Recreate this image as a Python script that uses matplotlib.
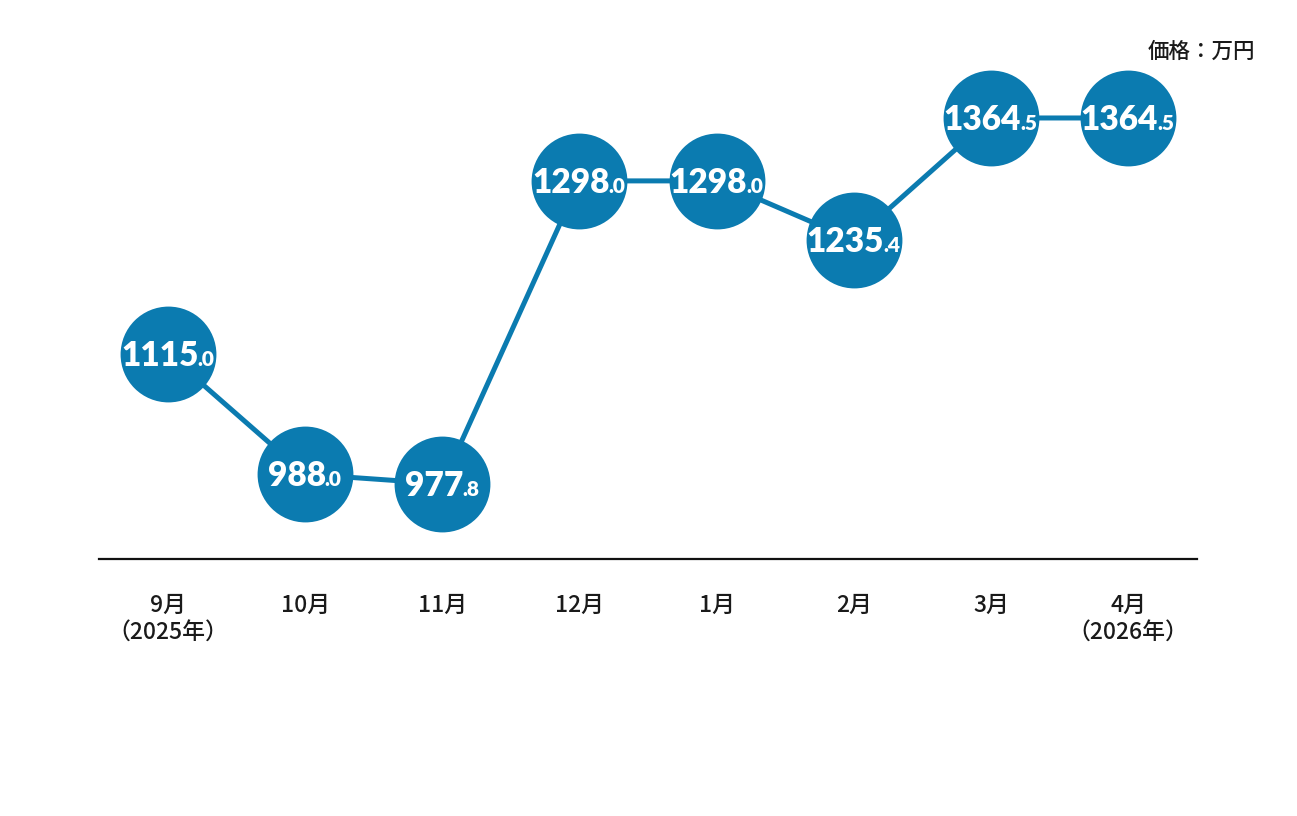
import matplotlib
matplotlib.use("Agg")
import matplotlib.pyplot as plt
from matplotlib.transforms import Affine2D

months = ["9月\n（2025年）", "10月", "11月", "12月", "1月", "2月", "3月", "4月\n（2026年）"]
prices = [1115.0, 988.0, 977.8, 1298.0, 1298.0, 1235.4, 1364.5, 1364.5]
unit_label = "価格：万円"

plt.rcParams['font.family'] = ['Noto Sans CJK JP', 'DejaVu Sans']

W, H = 1297, 816
fig = plt.figure(figsize=(W / 100, H / 100), dpi=100)
ax = fig.add_axes([0, 0, 1, 1])
ax.set_xlim(-1.225, 8.232)
ax.set_ylim(626.7, 1489.2)
ax.axis('off')

xs = list(range(len(prices)))
blue = "#0b7bb0"
ax.plot(xs, prices, color=blue, lw=3.6, zorder=2, solid_capstyle='butt')
ax.plot(xs, prices, 'o', ms=69, color=blue, markeredgewidth=0, zorder=3)

# baseline
ax.plot([-0.5, 7.5], [898.3, 898.3], color="#111111", lw=1.6, zorder=1)

# month labels
for x, m in zip(xs, months):
    ax.text(x, 861, m, ha='center', va='top', fontsize=16.5, fontweight='medium',
            color="#1a1a1a", linespacing=1.22)

ax.text(0.968, 0.937, unit_label, transform=fig.transFigure, ha='right', va='center',
        fontsize=15.5, fontweight='medium', color="#1a1a1a")

# value labels: big integer part + small decimal part
fig.canvas.draw()
r = fig.canvas.get_renderer()
vfont = ['Lato', 'DejaVu Sans']
for x, p in zip(xs, prices):
    s = f"{p:.1f}"
    ip, dp = s.split(".")
    t1 = ax.text(x, p, ip, ha='left', va='baseline', fontsize=24, fontweight='heavy',
                 color='white', family=vfont, zorder=4)
    t2 = ax.text(x, p, "." + dp, ha='left', va='baseline', fontsize=15, fontweight='heavy',
                 color='white', family=vfont, zorder=4)
    w1 = t1.get_window_extent(r).width
    w2 = t2.get_window_extent(r).width
    dx = -(w1 + w2) / 2
    dy = -12
    t1.set_transform(ax.transData + Affine2D().translate(dx, dy))
    t2.set_transform(ax.transData + Affine2D().translate(dx + w1 - 1, dy))

fig.savefig("out.png", dpi=100, facecolor='white')
